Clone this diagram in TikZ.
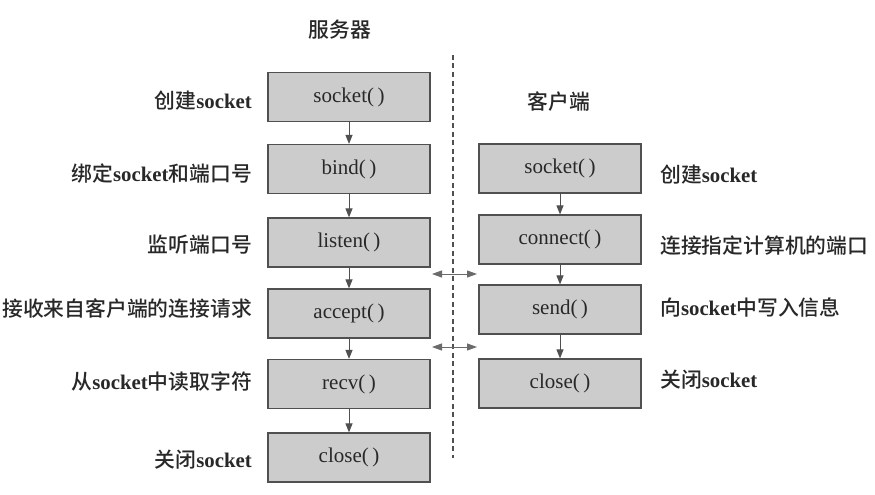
\documentclass[tikz,border=0pt]{standalone}
\usepackage{fontspec}
\setmainfont{Liberation Serif}
\newfontfamily\cjk{Noto Sans CJK SC Medium}
\usetikzlibrary{arrows.meta}
\definecolor{boxfill}{RGB}{204,204,204}
\definecolor{boxline}{RGB}{80,80,80}
\definecolor{ink}{RGB}{40,40,40}
\newcommand{\lat}[1]{{\bfseries #1}}
\tikzset{
  fn/.style={draw=boxline, line width=1.2pt, fill=boxfill, minimum width=162pt, minimum height=49pt,
    inner sep=0pt, text=ink, font=\fontsize{21}{24}\selectfont},
  lab/.style={text=ink, inner sep=0pt, font=\fontsize{20.8}{24}\selectfont},
  flow/.style={draw=boxline, line width=1pt, -{Triangle[length=9pt,width=7pt]}},
  link/.style={draw=boxline!85, line width=1pt, {Triangle[length=10pt,width=7pt]}-{Triangle[length=10pt,width=7pt]}},
  sep/.style={draw=boxline, line width=1.1pt, dash pattern=on 5pt off 3.5pt}
}
\begin{document}
\begin{tikzpicture}[x=1pt,y=-1pt]
\useasboundingbox (0,0) rectangle (875,495);
\fill[white] (0,0) rectangle (875,495);

% titles
\node[lab] (tserv) at (340,30) {\cjk 服务器};
\node[lab] (tcli) at (559,102) {\cjk 客户端};

% divider
\coordinate (dtop) at (453,55);
\coordinate (dbot) at (453,458);
\draw[sep] (dtop) -- (dbot);

% server column
\node[fn] (s1) at (349,97) {socket(\,)};
\node[fn] (s2) at (349,169) {bind(\,)};
\node[fn] (s3) at (349,242.5) {listen(\,)};
\node[fn] (s4) at (349,313.5) {accept(\,)};
\node[fn] (s5) at (349,384) {recv(\,)};
\node[fn] (s6) at (349,457.5) {close(\,)};
\draw[flow] (s1) -- (s2);
\draw[flow] (s2) -- (s3);
\draw[flow] (s3) -- (s4);
\draw[flow] (s4) -- (s5);
\draw[flow] (s5) -- (s6);

% client column
\node[fn] (c1) at (560,168.5) {socket(\,)};
\node[fn] (c2) at (560,239.5) {connect(\,)};
\node[fn] (c3) at (560,309.5) {send(\,)};
\node[fn] (c4) at (560,383.5) {close(\,)};
\draw[flow] (c1) -- (c2);
\draw[flow] (c2) -- (c3);
\draw[flow] (c3) -- (c4);

% exchanges
\coordinate (a1l) at (432,274);
\coordinate (a1r) at (477,274);
\coordinate (a2l) at (432,347);
\coordinate (a2r) at (477,347);
\draw[link] (a1l) -- (a1r);
\draw[link] (a2l) -- (a2r);

% left labels
\node[lab, anchor=east] (l1) at (252,101) {{\cjk 创建}\lat{socket}};
\node[lab, anchor=east] (l2) at (252,174) {{\cjk 绑定}\lat{socket}{\cjk 和端口号}};
\node[lab, anchor=east] (l3) at (252,245) {\cjk 监听端口号};
\node[lab, anchor=east] (l4) at (252,309) {\cjk 接收来自客户端的连接请求};
\node[lab, anchor=east] (l5) at (252,382) {{\cjk 从}\lat{socket}{\cjk 中读取字符}};
\node[lab, anchor=east] (l6) at (252,460) {{\cjk 关闭}\lat{socket}};

% right labels
\node[lab, anchor=west] (r1) at (660,175) {{\cjk 创建}\lat{socket}};
\node[lab, anchor=west] (r2) at (660,246) {\cjk 连接指定计算机的端口};
\node[lab, anchor=west] (r3) at (660,308) {{\cjk 向}\lat{socket}{\cjk 中写入信息}};
\node[lab, anchor=west] (r4) at (660,380) {{\cjk 关闭}\lat{socket}};
\end{tikzpicture}
\end{document}
